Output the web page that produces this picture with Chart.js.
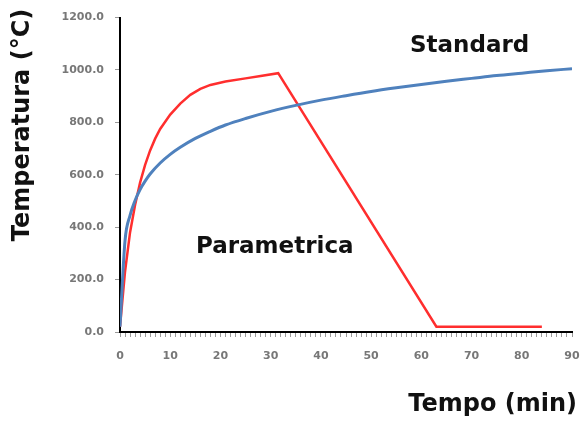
<!DOCTYPE html>
<html>
<head>
<meta charset="utf-8">
<script src="https://cdn.jsdelivr.net/npm/chart.js@4/dist/chart.umd.min.js"></script>
<style>
  html, body { margin: 0; padding: 0; background: #fff; }
  #wrap { width: 580px; height: 421px; }
</style>
</head>
<body>
<div id="wrap"><canvas id="c" width="580" height="421"></canvas></div>
<script>
// Standard (ISO) curve
const stdTime = [0, 1, 2, 3, 4, 5, 6, 8, 10, 12, 15, 18, 21, 25, 30, 35, 40, 45, 50, 55, 60, 65, 70, 75, 80, 85, 90];
const stdTemp = [20, 349, 445, 502, 544, 576, 603, 645, 678, 705, 739, 766, 790, 815, 842, 865, 885, 902, 918, 932, 945, 957, 968, 979, 988, 997, 1005];

// Parametric curve
const parTime = [0, 1, 2, 3, 4, 5, 6, 7, 8, 10, 12, 14, 16, 18, 21, 25, 28, 31.5, 63, 84];
const parTemp = [20, 230, 380, 485, 570, 638, 693, 738, 775, 830, 872, 905, 928, 943, 956, 968, 977, 988, 20, 20];

const FONT = 'DejaVu Sans';

const labels = {
  id: 'labels',
  afterDraw(chart) {
    const ctx = chart.ctx;
    ctx.save();
    ctx.fillStyle = '#111';
    ctx.textBaseline = 'middle';
    ctx.textAlign = 'left';
    ctx.font = `bold 23px ${FONT}`;
    ctx.fillText('Standard', 410, 46);
    ctx.fillText('Parametrica', 196, 247);
    ctx.textAlign = 'right';
    ctx.font = `bold 24px ${FONT}`;
    ctx.fillText('Tempo (min)', 577, 405);
    ctx.translate(23, 125);
    ctx.rotate(-Math.PI / 2);
    ctx.textAlign = 'center';
    ctx.fillText('Temperatura (°C)', 0, 0);
    ctx.restore();
  }
};

new Chart(document.getElementById('c'), {
  type: 'line',
  data: {
    datasets: [
      {
        label: 'Standard',
        data: stdTime.map((t, i) => ({ x: t, y: stdTemp[i] })),
        borderColor: '#4f81bd',
        borderWidth: 3,
        pointRadius: 0,
        cubicInterpolationMode: 'monotone',
        fill: false
      },
      {
        label: 'Parametrica',
        data: parTime.map((t, i) => ({ x: t, y: parTemp[i] })),
        borderColor: '#ff2e2e',
        borderWidth: 2.5,
        pointRadius: 0,
        tension: 0,
        fill: false
      }
    ]
  },
  options: {
    responsive: false,
    animation: false,
    layout: { padding: { top: 17, right: 8, left: 0, bottom: 0 } },
    plugins: { legend: { display: false }, tooltip: { enabled: false } },
    scales: {
      x: {
        type: 'linear', min: 0, max: 90,
        border: { color: '#000', width: 2 },
        grid: { drawOnChartArea: false, drawTicks: true, tickLength: 5, color: '#999' },
        ticks: {
          stepSize: 1, autoSkip: false, maxRotation: 0, padding: 13,
          color: '#777', font: { family: FONT, size: 11, weight: 'bold' },
          callback: v => (v % 10 === 0 ? v : '')
        },
        afterFit: s => { s.height = 89; s.paddingLeft = 0; s.paddingRight = 0; }
      },
      y: {
        min: 0, max: 1200,
        border: { color: '#000', width: 2 },
        grid: { drawOnChartArea: false, drawTicks: true, tickLength: 5, color: '#999' },
        ticks: {
          stepSize: 200, padding: 11,
          color: '#777', font: { family: FONT, size: 11, weight: 'bold' },
          callback: v => v.toFixed(1)
        },
        afterFit: s => { s.width = 120; }
      }
    }
  },
  plugins: [labels]
});
</script>
</body>
</html>
